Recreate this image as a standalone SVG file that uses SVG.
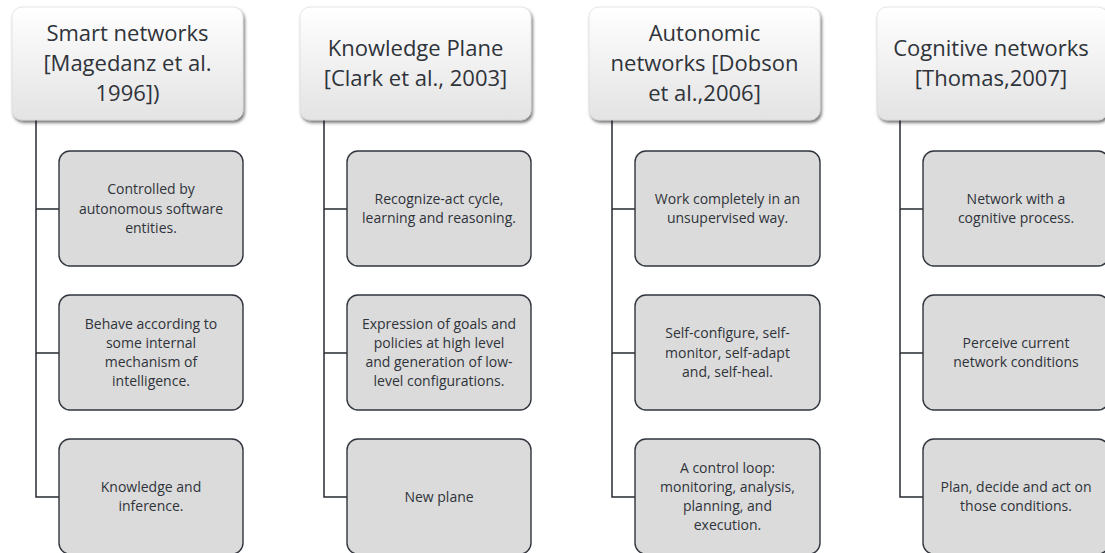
<svg xmlns="http://www.w3.org/2000/svg" width="1105" height="553" viewBox="0 0 1105 553">
  <defs>
    <linearGradient id="headFill" x1="0" y1="0" x2="0" y2="1">
      <stop offset="0" stop-color="#ffffff"/>
      <stop offset="1" stop-color="#e3e3e3"/>
    </linearGradient>
    <filter id="headShadow" x="-10%" y="-10%" width="125%" height="130%">
      <feDropShadow dx="1.5" dy="2.5" stdDeviation="1.6" flood-color="#000" flood-opacity="0.55"/>
    </filter>
  </defs>
  <style>
    .head { fill: url(#headFill); stroke: #d6d6d6; stroke-width: 0.6; filter: url(#headShadow); }
    .child { fill: #dbdbdb; stroke: #30353d; stroke-width: 1.4; }
    .ht { font-family: "Open Sans", "Noto Sans", sans-serif; font-size: 22px; fill: #2f333a; text-anchor: middle; }
    .ct { font-family: "Open Sans", "Noto Sans", sans-serif; font-size: 14px; fill: #2f333a; text-anchor: middle; }
    .conn { fill: none; stroke: #262a31; stroke-width: 1.5; }
  </style>

  <rect width="1105" height="553" fill="#ffffff"/>

  <!-- tree connectors: trunk from each header down to its last child -->
  <g id="connectors">
    <path class="conn" d="M36 120 V497 H59 M36 209 H59 M36 353 H59"/>
    <path class="conn" d="M324 120 V497 H347 M324 209 H347 M324 353 H347"/>
    <path class="conn" d="M612 120 V497 H635 M612 209 H635 M612 353 H635"/>
    <path class="conn" d="M900 120 V497 H923 M900 209 H923 M900 353 H923"/>
  </g>

  <!-- column 1 -->
  <g id="smart-networks">
    <rect class="head" x="12" y="7" width="231" height="113" rx="10"/>
    <text class="ht" x="127.5" y="40.5"><tspan x="127.5">Smart networks</tspan><tspan x="127.5" dy="30">[Magedanz et al.</tspan><tspan x="127.5" dy="30">1996])</tspan></text>
  </g>
  <g id="smart-1">
    <rect class="child" x="59" y="151" width="184" height="115" rx="11"/>
    <text class="ct" x="151" y="194.3"><tspan x="151">Controlled by</tspan><tspan x="151" dy="19.2">autonomous software</tspan><tspan x="151" dy="19.2">entities.</tspan></text>
  </g>
  <g id="smart-2">
    <rect class="child" x="59" y="295" width="184" height="115" rx="11"/>
    <text class="ct" x="151" y="328.7"><tspan x="151">Behave according to</tspan><tspan x="151" dy="19.2">some internal</tspan><tspan x="151" dy="19.2">mechanism of</tspan><tspan x="151" dy="19.2">intelligence.</tspan></text>
  </g>
  <g id="smart-3">
    <rect class="child" x="59" y="439" width="184" height="115" rx="11"/>
    <text class="ct" x="151" y="491.9"><tspan x="151">Knowledge and</tspan><tspan x="151" dy="19.2">inference.</tspan></text>
  </g>

  <!-- column 2 -->
  <g id="knowledge-plane">
    <rect class="head" x="300" y="7" width="231" height="113" rx="10"/>
    <text class="ht" x="415.5" y="55.5"><tspan x="415.5">Knowledge Plane</tspan><tspan x="415.5" dy="30">[Clark et al., 2003]</tspan></text>
  </g>
  <g id="knowledge-1">
    <rect class="child" x="347" y="151" width="184" height="115" rx="11"/>
    <text class="ct" x="439" y="203.9"><tspan x="439">Recognize-act cycle,</tspan><tspan x="439" dy="19.2">learning and reasoning.</tspan></text>
  </g>
  <g id="knowledge-2">
    <rect class="child" x="347" y="295" width="184" height="115" rx="11"/>
    <text class="ct" x="439" y="328.7"><tspan x="439">Expression of goals and</tspan><tspan x="439" dy="19.2">policies at high level</tspan><tspan x="439" dy="19.2">and generation of low-</tspan><tspan x="439" dy="19.2">level configurations.</tspan></text>
  </g>
  <g id="knowledge-3">
    <rect class="child" x="347" y="439" width="184" height="115" rx="11"/>
    <text class="ct" x="439" y="501.5">New plane</text>
  </g>

  <!-- column 3 -->
  <g id="autonomic-networks">
    <rect class="head" x="589" y="7" width="231" height="113" rx="10"/>
    <text class="ht" x="704.5" y="40.5"><tspan x="704.5">Autonomic</tspan><tspan x="704.5" dy="30">networks [Dobson</tspan><tspan x="704.5" dy="30">et al.,2006]</tspan></text>
  </g>
  <g id="autonomic-1">
    <rect class="child" x="635" y="151" width="185" height="115" rx="11"/>
    <text class="ct" x="727.5" y="203.9"><tspan x="727.5">Work completely in an</tspan><tspan x="727.5" dy="19.2">unsupervised way.</tspan></text>
  </g>
  <g id="autonomic-2">
    <rect class="child" x="635" y="295" width="185" height="115" rx="11"/>
    <text class="ct" x="727.5" y="338.3"><tspan x="727.5">Self-configure, self-</tspan><tspan x="727.5" dy="19.2">monitor, self-adapt</tspan><tspan x="727.5" dy="19.2">and, self-heal.</tspan></text>
  </g>
  <g id="autonomic-3">
    <rect class="child" x="635" y="439" width="185" height="115" rx="11"/>
    <text class="ct" x="727.5" y="472.7"><tspan x="727.5">A control loop:</tspan><tspan x="727.5" dy="19.2">monitoring, analysis,</tspan><tspan x="727.5" dy="19.2">planning, and</tspan><tspan x="727.5" dy="19.2">execution.</tspan></text>
  </g>

  <!-- column 4 -->
  <g id="cognitive-networks">
    <rect class="head" x="877" y="7" width="231" height="113" rx="10"/>
    <text class="ht" x="991" y="55.5"><tspan x="991">Cognitive networks</tspan><tspan x="991" dy="30">[Thomas,2007]</tspan></text>
  </g>
  <g id="cognitive-1">
    <rect class="child" x="923" y="151" width="186" height="115" rx="11"/>
    <text class="ct" x="1016" y="203.9"><tspan x="1016">Network with a</tspan><tspan x="1016" dy="19.2">cognitive process.</tspan></text>
  </g>
  <g id="cognitive-2">
    <rect class="child" x="923" y="295" width="186" height="115" rx="11"/>
    <text class="ct" x="1016" y="347.9"><tspan x="1016">Perceive current</tspan><tspan x="1016" dy="19.2">network conditions</tspan></text>
  </g>
  <g id="cognitive-3">
    <rect class="child" x="923" y="439" width="186" height="115" rx="11"/>
    <text class="ct" x="1016" y="491.9"><tspan x="1016">Plan, decide and act on</tspan><tspan x="1016" dy="19.2">those conditions.</tspan></text>
  </g>
</svg>
